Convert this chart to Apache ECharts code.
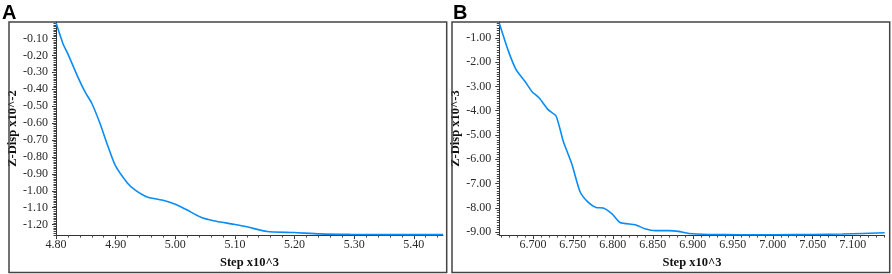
<!DOCTYPE html>
<html>
<head>
<meta charset="utf-8">
<script src="https://cdn.jsdelivr.net/npm/echarts@6/dist/echarts.min.js"></script>
<style>
  html, body { margin: 0; padding: 0; background: #fff; }
  #chart { width: 892px; height: 274px; }
</style>
</head>
<body>
<div id="chart"></div>
<script>
// panel A
const stepA = [4.800, 4.812, 4.819, 4.835, 4.849, 4.860, 4.874, 4.885, 4.899, 4.920, 4.933, 4.953, 4.981, 5.000, 5.020, 5.042, 5.064, 5.098, 5.120, 5.154, 5.199, 5.243, 5.293, 5.350, 5.449]
const dispA = [-0.008, -0.134, -0.184, -0.315, -0.418, -0.483, -0.604, -0.716, -0.847, -0.955, -0.996, -1.037, -1.058, -1.080, -1.114, -1.155, -1.177, -1.198, -1.213, -1.241, -1.247, -1.255, -1.258, -1.259, -1.259]
const xTicksA = [4.80, 4.90, 5.00, 5.10, 5.20, 5.30, 5.40]
const yTicksA = [-0.10, -0.20, -0.30, -0.40, -0.50, -0.60, -0.70, -0.80, -0.90, -1.00, -1.10, -1.20]

// panel B
const stepB = [6.658, 6.6695, 6.679, 6.690, 6.699, 6.708, 6.719, 6.729, 6.738, 6.749, 6.759, 6.769, 6.779, 6.788, 6.799, 6.809, 6.828, 6.840, 6.853, 6.870, 6.882, 6.895, 6.920, 6.960, 7.003, 7.050, 7.087, 7.140]
const dispB = [-0.40, -1.56, -2.31, -2.79, -3.22, -3.48, -3.96, -4.22, -5.26, -6.23, -7.34, -7.77, -7.99, -8.01, -8.25, -8.61, -8.70, -8.86, -8.94, -8.94, -8.97, -9.06, -9.10, -9.11, -9.11, -9.10, -9.08, -9.03]
const xTicksB = [6.700, 6.750, 6.800, 6.850, 6.900, 6.950, 7.000, 7.050, 7.100]
const yTicksB = [-1.00, -2.00, -3.00, -4.00, -5.00, -6.00, -7.00, -8.00, -9.00]

const lineColor = '#0a8cf5'
const serif = '"Liberation Serif", "DejaVu Serif", serif'

// minor tick positions between the labelled ticks
const minorTicks = (ticks, parts, lo, hi) => {
  const step = Math.abs(ticks[1] - ticks[0]) / parts
  const out = []
  const start = ticks[0] - Math.ceil((ticks[0] - lo) / step) * step
  for (let v = start; v <= hi + 1e-9; v += step) {
    if (v >= lo - 1e-9) out.push(+v.toFixed(5))
  }
  return out
}

const panels = [
  { grid: { left: 56, right: 449, top: 22, bottom: 26.5 }, x: [4.80, 5.449], y: [-1.262, -0.003],
    xTicks: xTicksA, yTicks: yTicksA, xDec: 2, yDec: 2, xParts: 5, yParts: 10,
    yName: 'Z-Disp x10^-2', steps: stepA, disp: dispA },
  { grid: { left: 499.3, right: 7.3, top: 22, bottom: 26.5 }, x: [6.658, 7.140], y: [-9.125, -0.35],
    xTicks: xTicksB, yTicks: yTicksB, xDec: 3, yDec: 2, xParts: 5, yParts: 10,
    yName: 'Z-Disp x10^-3', steps: stepB, disp: dispB }
]

const grid = []
const xAxis = []
const yAxis = []
const series = []

panels.forEach((p, i) => {
  grid.push(p.grid)
  const axisLine = { show: true, lineStyle: { color: '#333', width: 1 } }
  // main x axis
  xAxis.push({
    type: 'value', gridIndex: i, min: p.x[0], max: p.x[1],
    axisLine, splitLine: { show: false },
    axisTick: { show: true, length: 4, inside: false, customValues: p.xTicks, lineStyle: { color: '#333' } },
    axisLabel: { customValues: p.xTicks, margin: 4, fontFamily: serif, fontSize: 12, color: '#2a2a2a',
      formatter: v => v.toFixed(p.xDec) },
    name: 'Step x10^3', nameLocation: 'middle', nameGap: 15,
    nameTextStyle: { fontFamily: serif, fontSize: 12.5, fontWeight: 'bold', color: '#111' }
  })
  // minor x ticks
  xAxis.push({
    type: 'value', gridIndex: i, min: p.x[0], max: p.x[1], position: 'bottom',
    axisLine: { show: false }, splitLine: { show: false }, axisLabel: { show: false },
    axisTick: { show: true, length: 2.5, customValues: minorTicks(p.xTicks, p.xParts, p.x[0], p.x[1]), lineStyle: { color: '#444' } }
  })
  // main y axis
  yAxis.push({
    type: 'value', gridIndex: i, min: p.y[0], max: p.y[1],
    axisLine, splitLine: { show: false },
    axisTick: { show: true, length: 4, customValues: p.yTicks, lineStyle: { color: '#333' } },
    axisLabel: { customValues: p.yTicks, margin: 8, fontFamily: serif, fontSize: 12, color: '#2a2a2a',
      formatter: v => v.toFixed(p.yDec) },
    name: p.yName, nameLocation: 'middle', nameGap: 34, nameRotate: 90,
    nameTextStyle: { fontFamily: serif, fontSize: 12.5, fontWeight: 'bold', color: '#111' }
  })
  // minor y ticks
  yAxis.push({
    type: 'value', gridIndex: i, min: p.y[0], max: p.y[1], position: 'left',
    axisLine: { show: false }, splitLine: { show: false }, axisLabel: { show: false },
    axisTick: { show: true, length: 2.5, customValues: minorTicks(p.yTicks, p.yParts, p.y[0], p.y[1]), lineStyle: { color: '#444' } }
  })
  series.push({
    type: 'line', xAxisIndex: i * 2, yAxisIndex: i * 2,
    data: p.steps.map((s, k) => [s, p.disp[k]]),
    showSymbol: false, smooth: 0.2,
    lineStyle: { color: lineColor, width: 1.6 }
  })
})

const chart = echarts.init(document.getElementById('chart'))
chart.setOption({
  animation: false,
  backgroundColor: '#fff',
  grid, xAxis, yAxis, series,
  graphic: [
    { type: 'rect', shape: { x: 9, y: 22, width: 437.7, height: 250.5 }, style: { fill: 'none', stroke: '#444', lineWidth: 1.5 }, z: 10 },
    { type: 'rect', shape: { x: 452, y: 22, width: 437.7, height: 250.5 }, style: { fill: 'none', stroke: '#444', lineWidth: 1.5 }, z: 10 },
    { type: 'text', left: 2, top: 3, style: { text: 'A', font: 'bold 20px "Liberation Sans", Arial, sans-serif', fill: '#000' } },
    { type: 'text', left: 453, top: 3, style: { text: 'B', font: 'bold 20px "Liberation Sans", Arial, sans-serif', fill: '#000' } }
  ]
})
</script>
</body>
</html>
